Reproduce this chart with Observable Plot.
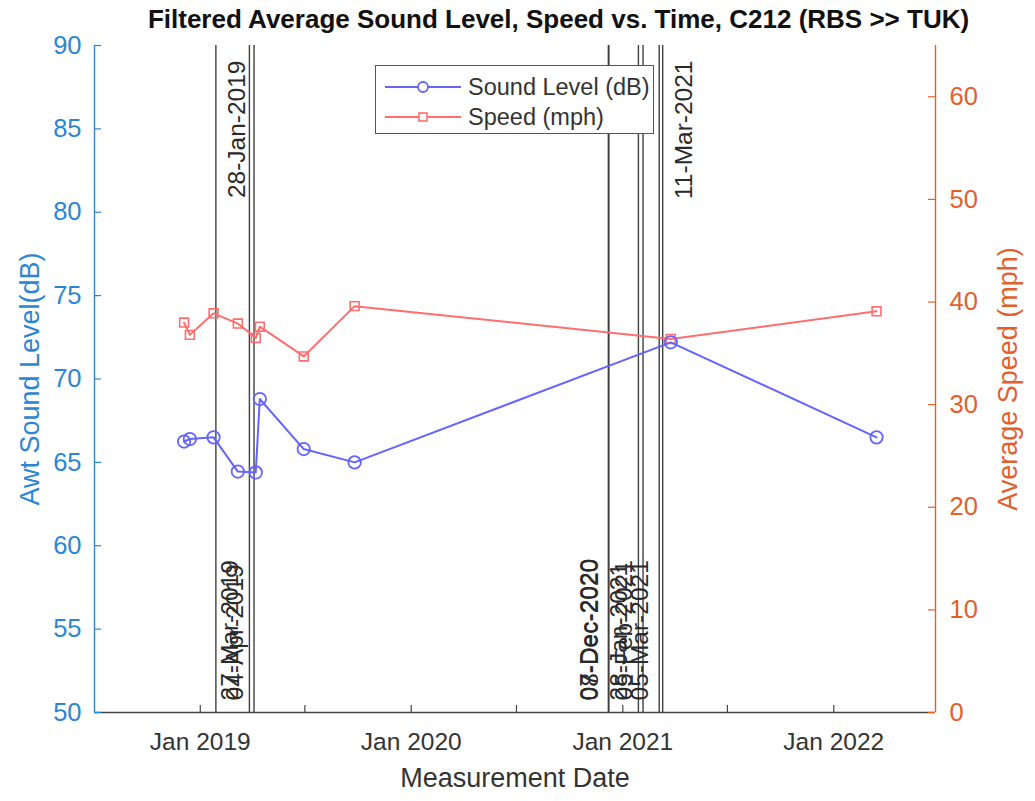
<!DOCTYPE html>
<html><head><meta charset="utf-8">
<script src="https://cdn.jsdelivr.net/npm/d3@7"></script>
<script src="https://cdn.jsdelivr.net/npm/@observablehq/plot@0.6"></script>
<style>
body{margin:0;background:#fff;font-family:"Liberation Sans",Arial,sans-serif;}
#wrap{position:relative;width:1035px;height:801px;overflow:hidden;}
#title{height:34px;box-sizing:border-box;padding-top:5px;padding-left:82px;text-align:center;font-weight:bold;font-size:26px;line-height:29px;color:#111;white-space:nowrap;}
#legend{position:absolute;left:375px;top:65px;width:279px;height:69px;border:1px solid #555;background:#fff;box-sizing:border-box;}
</style></head>
<body>
<div id="wrap">
<div id="title">Filtered Average Sound Level, Speed vs. Time, C212 (RBS &gt;&gt; TUK)</div>
<div id="chart"></div>
<div id="legend"></div>
</div>
<script>
// ---- data ----
const dates = ["2018-12-04","2018-12-14","2019-01-24","2019-03-07","2019-04-07","2019-04-14","2019-06-29","2019-09-25","2021-03-25","2022-03-16"];
const soundDb = [66.25, 66.4, 66.5, 64.45, 64.4, 68.8, 65.8, 65.0, 72.2, 66.5];
const speedMph = [38.0, 36.8, 38.9, 37.9, 36.5, 37.6, 34.7, 39.6, 36.4, 39.1];
const eventDates = ["2019-01-28","2019-03-27","2019-04-04","2020-12-07","2020-12-08","2021-01-28","2021-02-05","2021-03-05","2021-03-11"];
const eventLabels = ["28-Jan-2019","27-Mar-2019","04-Apr-2019","07-Dec-2020","08-Dec-2020","28-Jan-2021","05-Feb-2021","05-Mar-2021","11-Mar-2021"];
const eventLabelPos = ["top","bottom","bottom","bottom","bottom","bottom","bottom","bottom","top"];
const yLeftTicks = [50,55,60,65,70,75,80,85,90];
const yRightTicks = [0,10,20,30,40,50,60];
const xTickDates = ["2019-01-01","2019-07-01","2020-01-01","2020-07-01","2021-01-01","2021-07-01","2022-01-01"];
const xDomainDates = ["2018-07-02","2022-06-26"];
const leftDomain = [50, 90];
const rightDomain = [0, 65];
const seriesNames = ["Sound Level (dB)", "Speed (mph)"];

// ---- styling ----
const blue = "#2a86d2", orange = "#e2602c";
const soundColor = "#6464ff", speedColor = "#ff6e6e";
const W = 1035, H = 767, mT = 11, mB = 89, mL = 94, mR = 100;
const plotW = W - mL - mR, plotH = H - mT - mB, tk = 7;

const parse = d3.utcParse("%Y-%m-%d");
const toLeft = v => leftDomain[0] + (v - rightDomain[0]) * (leftDomain[1] - leftDomain[0]) / (rightDomain[1] - rightDomain[0]);
const toRight = v => rightDomain[0] + (v - leftDomain[0]) * (rightDomain[1] - rightDomain[0]) / (leftDomain[1] - leftDomain[0]);

const rows = dates.map((d, i) => ({date: parse(d), sound: soundDb[i], speed: speedMph[i], speedY: toLeft(speedMph[i])}));
const events = eventDates.map((d, i) => ({date: parse(d), label: eventLabels[i], pos: eventLabelPos[i]}));
const xDomain = xDomainDates.map(parse);
const xTicks = xTickDates.map(parse);

const chart = Plot.plot({
  width: W, height: H, marginTop: mT, marginBottom: mB, marginLeft: mL, marginRight: mR,
  style: {fontFamily: "'Liberation Sans', Arial, sans-serif", fontSize: "24px", background: "#fff", overflow: "visible"},
  x: {type: "utc", domain: xDomain},
  y: {domain: leftDomain},
  marks: [
    // event lines
    Plot.ruleX(events, {x: "date", stroke: "#404040", strokeWidth: 1.4}),
    Plot.text(events.filter(e => e.pos === "top"), {x: "date", frameAnchor: "top", text: "label", rotate: -90, textAnchor: "end", lineAnchor: "middle", dx: 21, dy: 15, fill: "#2a2a2a", fontSize: 24.5}),
    Plot.text(events.filter(e => e.pos === "bottom"), {x: "date", frameAnchor: "bottom", text: "label", rotate: -90, textAnchor: "start", lineAnchor: "middle", dx: -19, dy: -12, fill: "#2a2a2a", fontSize: 24.5}),
    // axes lines
    Plot.ruleY([leftDomain[0]], {stroke: "#444", strokeWidth: 1.3}),
    Plot.ruleX([xDomain[0]], {stroke: blue, strokeWidth: 1.4}),
    Plot.ruleX([xDomain[1]], {stroke: orange, strokeWidth: 1.4}),
    // inward ticks
    Plot.tickX(xTicks, {x: d => d, insetTop: plotH - tk, stroke: "#444", strokeWidth: 1.2}),
    Plot.tickY(yLeftTicks, {y: d => d, insetRight: plotW - tk, stroke: blue, strokeWidth: 1.2}),
    Plot.tickY(yRightTicks.map(toLeft), {y: d => d, insetLeft: plotW - tk, stroke: orange, strokeWidth: 1.2}),
    // tick labels
    Plot.axisX(xTicks, {anchor: "bottom", tickSize: 0, tickPadding: 20, fill: "#333", fontSize: 24.5,
      tickFormat: d => d.getUTCMonth() === 0 ? `Jan ${d.getUTCFullYear()}` : "", label: null}),
    Plot.axisY(yLeftTicks, {anchor: "left", tickSize: 0, tickPadding: 13, fill: blue, fontSize: 25.5, label: null}),
    Plot.axisY(yRightTicks.map(toLeft), {anchor: "right", tickSize: 0, tickPadding: 14, fill: orange, fontSize: 25.5,
      tickFormat: d => String(Math.round(toRight(d))), label: null}),
    // axis titles
    Plot.text(["Measurement Date"], {frameAnchor: "bottom", text: d => d, textAnchor: "middle", lineAnchor: "top", dy: 55, fill: "#333", fontSize: 27}),
    Plot.text(["Awt Sound Level(dB)"], {frameAnchor: "left", text: d => d, rotate: -90, textAnchor: "middle", lineAnchor: "middle", dx: -64, fill: blue, fontSize: 27}),
    Plot.text(["Average Speed (mph)"], {frameAnchor: "right", text: d => d, rotate: -90, textAnchor: "middle", lineAnchor: "middle", dx: 73, fill: orange, fontSize: 27}),
    // data
    Plot.line(rows, {x: "date", y: "speedY", stroke: speedColor, strokeWidth: 2}),
    Plot.dot(rows, {x: "date", y: "speedY", symbol: "square", r: 5, stroke: speedColor, strokeWidth: 1.6, fill: "none"}),
    Plot.line(rows, {x: "date", y: "sound", stroke: soundColor, strokeWidth: 2}),
    Plot.dot(rows, {x: "date", y: "sound", r: 6.2, stroke: soundColor, strokeWidth: 1.8, fill: "none"})
  ]
});
document.getElementById("chart").appendChild(chart);

// legend
const lg = d3.select("#legend").append("svg").attr("width", 277).attr("height", 67)
  .style("font-family", "'Liberation Sans', Arial, sans-serif");
const entries = [
  {name: seriesNames[0], color: soundColor, sym: "circle", y: 21},
  {name: seriesNames[1], color: speedColor, sym: "square", y: 51}
];
for (const e of entries) {
  lg.append("line").attr("x1", 9).attr("x2", 85).attr("y1", e.y).attr("y2", e.y).attr("stroke", e.color).attr("stroke-width", 2);
  if (e.sym === "circle") lg.append("circle").attr("cx", 47).attr("cy", e.y).attr("r", 5).attr("fill", "#fff").attr("stroke", e.color).attr("stroke-width", 1.8);
  else lg.append("rect").attr("x", 43).attr("y", e.y - 4).attr("width", 8).attr("height", 8).attr("fill", "#fff").attr("stroke", e.color).attr("stroke-width", 1.6);
  lg.append("text").attr("x", 92).attr("y", e.y).attr("dy", "0.35em").attr("font-size", 23.5).attr("fill", "#333").text(e.name);
}
</script>
</body></html>
